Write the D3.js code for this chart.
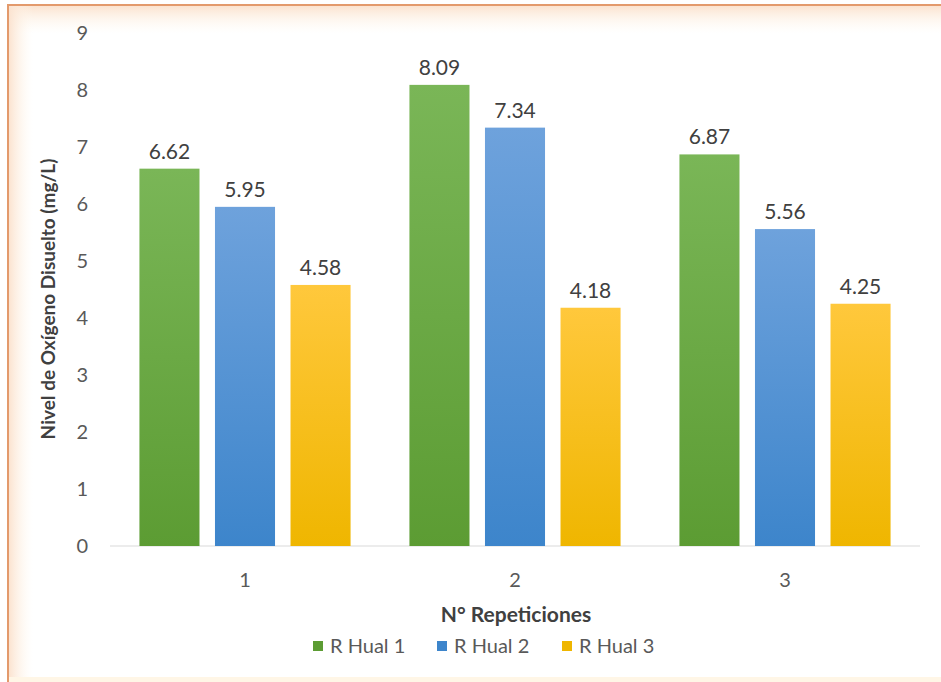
<!DOCTYPE html>
<html>
<head>
<meta charset="utf-8">
<script src="https://cdn.jsdelivr.net/npm/d3@7"></script>
<style>
  html, body { margin: 0; padding: 0; background: #fff; }
  svg { display: block; }
  text { font-family: Lato, "Open Sans", "Noto Sans", sans-serif; }
</style>
</head>
<body>
<svg id="chart" width="941" height="682"></svg>
<script>
// Repetition groups and dissolved oxygen readings per site
const categories = ["1", "2", "3"];
const seriesNames = ["R Hual 1", "R Hual 2", "R Hual 3"];
const rHual1 = [6.62, 8.09, 6.87];
const rHual2 = [5.95, 7.34, 5.56];
const rHual3 = [4.58, 4.18, 4.25];
const yTicks = [0, 1, 2, 3, 4, 5, 6, 7, 8, 9];

const seriesValues = [rHual1, rHual2, rHual3];
const palette = [
  { top: "#7ab657", bottom: "#5c9c33" },
  { top: "#6ea2dc", bottom: "#3d85cb" },
  { top: "#ffc83c", bottom: "#efb600" }
];

const svg = d3.select("#chart");
const W = 941, H = 682;
const plot = { left: 110, right: 920, top: 33, bottom: 546 };

// Gradients
const defs = svg.append("defs");
palette.forEach((p, i) => {
  const g = defs.append("linearGradient")
    .attr("id", "grad" + i).attr("x1", 0).attr("y1", 0).attr("x2", 0).attr("y2", 1);
  g.append("stop").attr("offset", "0%").attr("stop-color", p.top);
  g.append("stop").attr("offset", "100%").attr("stop-color", p.bottom);
});
const glowTop = defs.append("linearGradient").attr("id", "glowTop")
  .attr("x1", 0).attr("y1", 0).attr("x2", 0).attr("y2", 1);
glowTop.append("stop").attr("offset", "0%").attr("stop-color", "#fbe3d0").attr("stop-opacity", 1);
glowTop.append("stop").attr("offset", "100%").attr("stop-color", "#fffaf0").attr("stop-opacity", 0);
const glowLeft = defs.append("linearGradient").attr("id", "glowLeft")
  .attr("x1", 0).attr("y1", 0).attr("x2", 1).attr("y2", 0);
glowLeft.append("stop").attr("offset", "0%").attr("stop-color", "#fbe3d0").attr("stop-opacity", 1);
glowLeft.append("stop").attr("offset", "100%").attr("stop-color", "#fffaf0").attr("stop-opacity", 0);

// Background and frame (top and left edges)
svg.append("rect").attr("width", W).attr("height", H).attr("fill", "#ffffff");
svg.append("rect").attr("x", 9).attr("y", 6).attr("width", W).attr("height", 28).attr("fill", "url(#glowTop)");
svg.append("rect").attr("x", 9).attr("y", 6).attr("width", 24).attr("height", H).attr("fill", "url(#glowLeft)");
svg.append("rect").attr("x", 9).attr("y", H - 5).attr("width", W).attr("height", 5).attr("fill", "#fff6e6");
svg.append("path")
  .attr("d", `M8,${H} L8,5 L${W},5`)
  .attr("fill", "none").attr("stroke", "#e39a6c").attr("stroke-width", 2);

// Scales
const x0 = d3.scaleBand().domain(categories)
  .range([plot.left, plot.right]).paddingInner(0.218).paddingOuter(0.109);
const x1 = d3.scaleBand().domain(seriesNames)
  .range([0, x0.bandwidth()]).paddingInner(0.205);
const y = d3.scaleLinear().domain([0, 9]).range([plot.bottom, plot.top]);

// Y axis tick labels
svg.append("g").selectAll("text").data(yTicks).join("text")
  .attr("x", 88).attr("y", d => y(d))
  .attr("dy", "0.35em").attr("text-anchor", "end")
  .attr("font-size", 20).attr("fill", "#595959")
  .text(d => d);

// Baseline
svg.append("line")
  .attr("x1", plot.left).attr("x2", plot.right)
  .attr("y1", y(0)).attr("y2", y(0))
  .attr("stroke", "#d9d9d9").attr("stroke-width", 1.2);

// Bars and value labels
const groups = svg.append("g").selectAll("g").data(categories).join("g")
  .attr("transform", d => `translate(${x0(d)},0)`);

groups.selectAll("rect")
  .data((c, ci) => seriesNames.map((s, si) => ({ s, si, v: seriesValues[si][ci] })))
  .join("rect")
  .attr("x", d => x1(d.s)).attr("width", x1.bandwidth())
  .attr("y", d => y(d.v)).attr("height", d => y(0) - y(d.v))
  .attr("fill", d => `url(#grad${d.si})`);

groups.selectAll("text.val")
  .data((c, ci) => seriesNames.map((s, si) => ({ s, si, v: seriesValues[si][ci] })))
  .join("text").attr("class", "val")
  .attr("x", d => x1(d.s) + x1.bandwidth() / 2)
  .attr("y", d => y(d.v) - 10)
  .attr("text-anchor", "middle")
  .attr("font-size", 21).attr("fill", "#404040")
  .text(d => d.v.toFixed(2));

// X tick labels
svg.append("g").selectAll("text").data(categories).join("text")
  .attr("x", d => x0(d) + x0.bandwidth() / 2).attr("y", 580)
  .attr("dy", "0.35em").attr("text-anchor", "middle")
  .attr("font-size", 20).attr("fill", "#595959")
  .text(d => d);

// Axis titles
svg.append("text")
  .attr("x", (plot.left + plot.right) / 2 + 1).attr("y", 615)
  .attr("dy", "0.35em").attr("text-anchor", "middle")
  .attr("font-size", 21).attr("font-weight", "bold").attr("fill", "#404040")
  .text("N° Repeticiones");

svg.append("text")
  .attr("transform", `translate(48,299) rotate(-90)`)
  .attr("dy", "0.35em").attr("text-anchor", "middle")
  .attr("font-size", 19).attr("font-weight", "bold").attr("fill", "#404040")
  .text("Nivel de Oxígeno Disuelto (mg/L)");

// Legend
const legendX = [313, 437, 562];
const legend = svg.append("g").selectAll("g").data(seriesNames).join("g")
  .attr("transform", (d, i) => `translate(${legendX[i]},646)`);
legend.append("rect")
  .attr("x", 0).attr("y", -5).attr("width", 10).attr("height", 10)
  .attr("fill", (d, i) => palette[i].bottom);
legend.append("text")
  .attr("x", 17).attr("dy", "0.35em")
  .attr("font-size", 20).attr("fill", "#595959")
  .text(d => d);
</script>
</body>
</html>
